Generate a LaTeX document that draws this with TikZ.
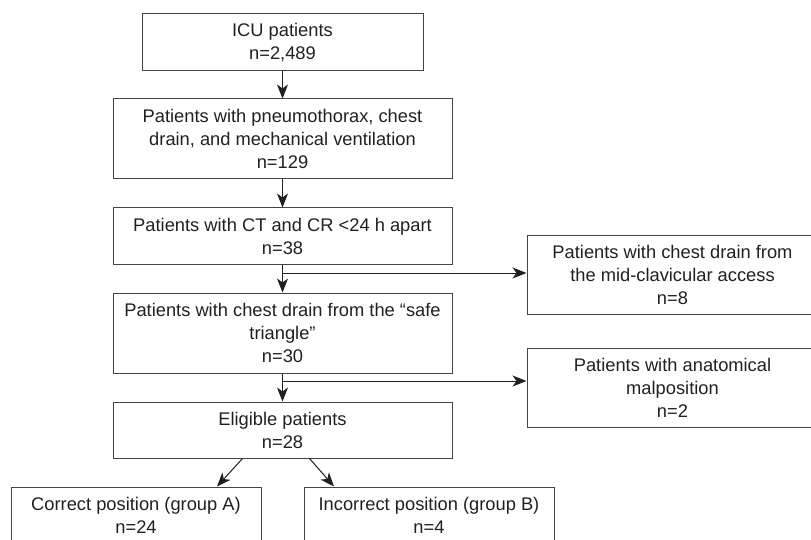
\documentclass[tikz,border=0pt]{standalone}
\usepackage{fontspec}
\setmainfont{Liberation Sans}
\usetikzlibrary{arrows.meta}
\definecolor{ink}{HTML}{231F20}
\definecolor{edge}{HTML}{444444}
\begin{document}
\begin{tikzpicture}[x=1pt,y=-1pt,
  box/.style={draw=edge,line width=1pt,inner sep=0pt,align=center,text=ink,
    font=\fontsize{18.3}{23}\selectfont},
  arr/.style={draw=ink,line width=1pt,-{Stealth[length=14pt,width=11pt,inset=4pt]}}]
\useasboundingbox (0,0) rectangle (811,540);
\node[box,minimum width=281pt,minimum height=57pt] (n1) at (282.5,42.5) {ICU patients\\n=2,489};
\node[box,minimum width=339pt,minimum height=80pt] (n2) at (282.5,139) {Patients with pneumothorax, chest\\drain, and mechanical ventilation\\n=129};
\node[box,minimum width=339pt,minimum height=56pt] (n3) at (282.5,236) {Patients with CT and CR <24 h apart\\n=38};
\node[box,minimum width=339pt,minimum height=80pt] (n4) at (282.5,333) {Patients with chest drain from the “safe\\triangle”\\n=30};
\node[box,minimum width=339pt,minimum height=56pt] (n5) at (282.5,430) {Eligible patients\\n=28};
\node[box,minimum width=250pt,minimum height=56pt] (n6) at (136,515) {Correct position (group A)\\n=24};
\node[box,minimum width=250pt,minimum height=56pt] (n7) at (429,515) {Incorrect position (group B)\\n=4};
\node[box,minimum width=291pt,minimum height=79pt] (r1) at (672.5,274.5) {Patients with chest drain from\\the mid-clavicular access\\n=8};
\node[box,minimum width=291pt,minimum height=79pt] (r2) at (672.5,387.5) {Patients with anatomical\\malposition\\n=2};
\coordinate (b1) at (282.5,273);
\coordinate (b2) at (282.5,381);
\draw[arr] (n1) -- (n2);
\draw[arr] (n2) -- (n3);
\draw[arr] (n3) -- (n4);
\draw[arr] (n4) -- (n5);
\draw[arr] (b1) -- (b1 -| r1.west);
\draw[arr] (b2) -- (b2 -| r2.west);
\draw[arr] ([xshift=-40pt]n5.south) -- ([xshift=81pt]n6.north);
\draw[arr] ([xshift=27pt]n5.south) -- ([xshift=-95pt]n7.north);
\end{tikzpicture}
\end{document}
